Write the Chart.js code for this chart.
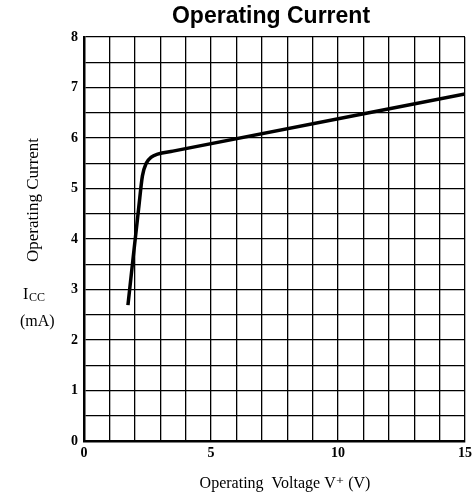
<!DOCTYPE html>
<html lang="en">
  <head>
    <meta charset="UTF-8" />
    <title>Operating Current</title>
    <script src="https://cdn.jsdelivr.net/npm/chart.js@4.4.0/dist/chart.umd.min.js"></script>
    <style>
      html, body { margin: 0; padding: 0; background: #fff; }
      #wrap { width: 474px; height: 498px; }
    </style>
  </head>
  <body>
    <div id="wrap"><canvas id="currentChart"></canvas></div>
    <script>
      // values
      const voltage = [1.73, 1.95, 2.15, 2.3, 2.45, 2.65, 2.9, 3.5, 15];
      const current = [2.69, 3.7, 4.6, 5.25, 5.5, 5.62, 5.68, 5.74, 6.87];
      const xTickLabels = [0, 5, 10, 15];
      const yTickLabels = [0, 1, 2, 3, 4, 5, 6, 7, 8];

      const serif = "'Liberation Serif', 'DejaVu Serif', serif";

      // chart title, y title and the Icc / (mA) labels
      const extraText = {
        id: "extraText",
        afterDraw(chart) {
          const ctx = chart.ctx;
          ctx.save();
          ctx.fillStyle = "#000";
          ctx.textBaseline = "middle";
          ctx.textAlign = "center";
          ctx.font = "bold 23px 'Liberation Sans', Arial, sans-serif";
          ctx.fillText("Operating Current", 271, 17);

          ctx.font = "16px " + serif;
          ctx.fillText("Operating  Voltage V\u207A (V)", 285, 484);

          ctx.save();
          ctx.translate(34, 200);
          ctx.rotate(-Math.PI / 2);
          ctx.font = "17px " + serif;
          ctx.fillText("Operating Current", 0, 0);
          ctx.restore();

          ctx.textAlign = "left";
          ctx.font = "16px " + serif;
          ctx.fillText("I", 23, 295);
          ctx.font = "12px " + serif;
          ctx.fillText("CC", 29, 298);
          ctx.font = "16px " + serif;
          ctx.fillText("(mA)", 20, 322);
          ctx.restore();
        },
      };

      new Chart(document.getElementById("currentChart"), {
        type: "scatter",
        data: {
          datasets: [
            {
              data: voltage.map((v, i) => ({ x: v, y: current[i] })),
              showLine: true,
              borderColor: "#000",
              borderWidth: 3.5,
              pointRadius: 0,
              cubicInterpolationMode: "monotone",
            },
          ],
        },
        options: {
          responsive: true,
          maintainAspectRatio: false,
          animation: false,
          layout: { padding: { top: 37, right: 9, bottom: 0, left: 0 } },
          plugins: { legend: { display: false }, tooltip: { enabled: false } },
          scales: {
            x: {
              min: 0,
              max: 15,
              afterFit: (s) => {
                s.height = 57;
                s.paddingRight = 0;
                s.paddingLeft = 0;
              },
              ticks: {
                stepSize: 1,
                autoSkip: false,
                maxRotation: 0,
                color: "#000",
                padding: 4,
                font: { family: serif, size: 14, weight: "bold" },
                callback: (v) => (xTickLabels.includes(v) ? v : ""),
              },
              grid: { color: "#000", lineWidth: 1.3, drawTicks: false },
              border: { color: "#000", width: 2.5 },
            },
            y: {
              min: 0,
              max: 8,
              afterFit: (s) => { s.width = 84; },
              ticks: {
                stepSize: 0.5,
                autoSkip: false,
                color: "#000",
                padding: 6,
                font: { family: serif, size: 14, weight: "bold" },
                callback: (v) => (yTickLabels.includes(v) ? v : ""),
              },
              grid: { color: "#000", lineWidth: 1.3, drawTicks: false },
              border: { color: "#000", width: 2.5 },
            },
          },
        },
        plugins: [extraText],
      });
    </script>
  </body>
</html>
